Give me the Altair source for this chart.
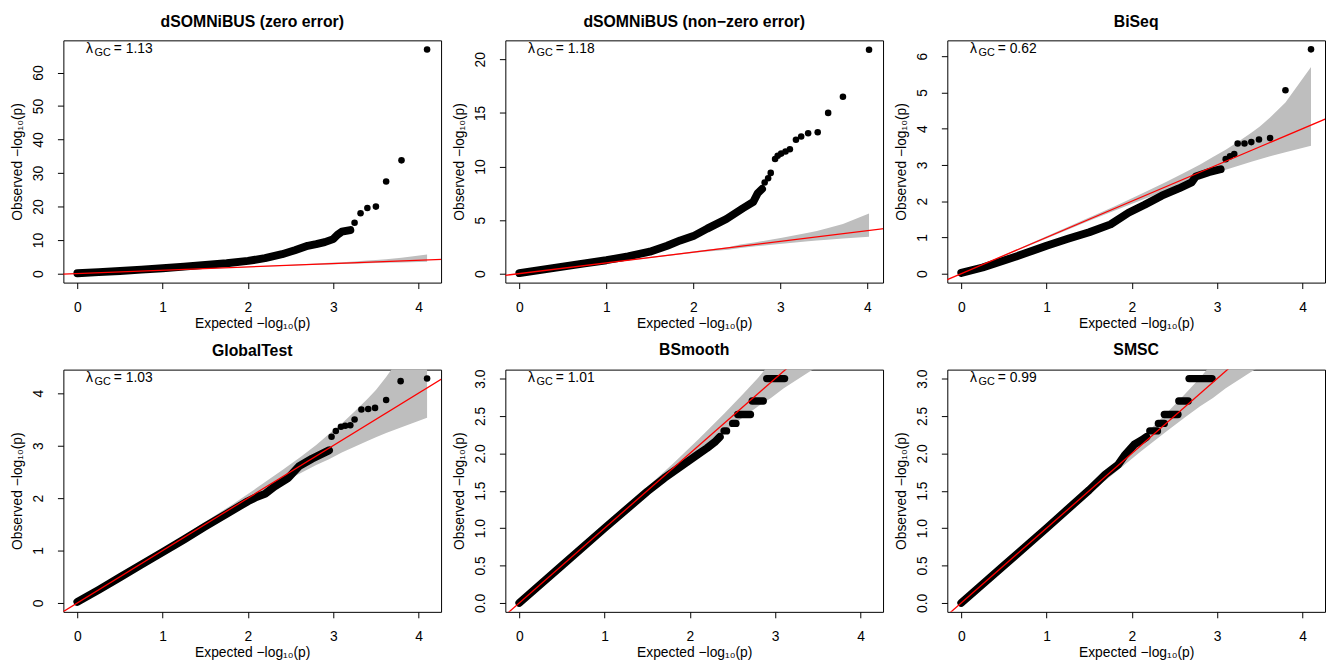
import altair as alt
import pandas as pd

FONT = "Liberation Sans"

titles = ["dSOMNiBUS (zero error)", "dSOMNiBUS (non\u2212zero error)", "BiSeq",
          "GlobalTest", "BSmooth", "SMSC"]
lambda_gc = ["1.13", "1.18", "0.62", "1.03", "1.01", "0.99"]

x_ticks = [0, 1, 2, 3, 4]
x_domains = [[-0.164, 4.264], [-0.161, 4.181], [-0.164, 4.264],
             [-0.164, 4.264], [-0.164, 4.264], [-0.164, 4.264]]
y_domains = [[-2.68, 69.6], [-0.84, 21.77], [-0.248, 6.438],
             [-0.17, 4.45], [-0.12, 3.12], [-0.12, 3.12]]
y_ticks = [[0, 10, 20, 30, 40, 50, 60], [0, 5, 10, 15, 20], [0, 1, 2, 3, 4, 5, 6],
           [0, 1, 2, 3, 4], [0, 0.5, 1.0, 1.5, 2.0, 2.5, 3.0], [0, 0.5, 1.0, 1.5, 2.0, 2.5, 3.0]]
y_formats = ["d", "d", "d", "d", ".1f", ".1f"]

# confidence bands (grey)
band_a_x = [0.0, 1.0, 1.5, 1.8, 2.1, 2.4, 2.62, 2.8, 2.95, 3.1, 3.25, 3.4, 3.5, 3.62, 3.8, 4.1]
band_a_hi = [0.0, 1.03, 1.55, 1.86, 2.19, 2.53, 2.79, 3.01, 3.22, 3.42, 3.65, 3.89, 4.06, 4.31, 4.72, 5.70]
band_a_lo = [0.0, 0.97, 1.46, 1.74, 2.02, 2.29, 2.48, 2.63, 2.74, 2.87, 2.98, 3.09, 3.16, 3.24, 3.35, 3.53]
band_b_x = [0.0, 1.0, 1.5, 1.8, 2.1, 2.4, 2.54, 2.72, 2.87, 3.02, 3.17, 3.32, 3.42, 3.54, 3.72, 4.02]
band_b_hi = [0.0, 1.03, 1.55, 1.86, 2.19, 2.46, 2.71, 2.93, 3.14, 3.34, 3.57, 3.81, 3.98, 4.23, 4.64, 5.62]
band_b_lo = [0.0, 0.97, 1.46, 1.74, 2.02, 2.22, 2.40, 2.55, 2.66, 2.79, 2.90, 3.01, 3.08, 3.16, 3.27, 3.45]

# dense parts of the QQ curves
p1_curve_x = [0.0, 0.25, 0.5, 0.75, 1.0, 1.25, 1.5, 1.75, 2.0, 2.2, 2.4, 2.55, 2.7, 2.8, 2.9, 3.0, 3.05, 3.1, 3.2]
p1_curve_y = [0.1, 0.45, 0.8, 1.2, 1.6, 2.1, 2.6, 3.1, 3.8, 4.6, 5.8, 7.0, 8.3, 8.8, 9.4, 10.3, 11.6, 12.5, 13.0]
p2_curve_x = [0.0, 0.25, 0.5, 0.75, 1.0, 1.25, 1.5, 1.7, 1.85, 2.0, 2.16, 2.38, 2.57, 2.69, 2.74, 2.79]
p2_curve_y = [0.05, 0.35, 0.65, 0.95, 1.25, 1.6, 2.05, 2.6, 3.1, 3.5, 4.2, 5.1, 6.1, 6.7, 7.5, 7.9]
p3_curve_x = [0.0, 0.25, 0.5, 0.75, 1.0, 1.25, 1.5, 1.75, 1.96, 2.15, 2.35, 2.55, 2.70, 2.75, 2.9, 3.04]
p3_curve_y = [0.02, 0.17, 0.36, 0.56, 0.77, 0.96, 1.14, 1.36, 1.68, 1.90, 2.15, 2.35, 2.52, 2.68, 2.80, 2.88]
p4_curve_x = [0.0, 0.25, 0.5, 0.75, 1.0, 1.25, 1.5, 1.75, 2.0, 2.1, 2.2, 2.31, 2.47, 2.6, 2.75, 2.95]
p4_curve_y = [0.02, 0.25, 0.49, 0.73, 0.97, 1.21, 1.46, 1.70, 1.94, 2.02, 2.08, 2.22, 2.38, 2.61, 2.75, 2.91]
p5_curve_x = [0.0, 0.5, 1.0, 1.5, 1.7, 1.85, 2.0, 2.1, 2.2, 2.29, 2.35]
p5_curve_y = [0.0, 0.5, 1.0, 1.49, 1.67, 1.79, 1.91, 1.99, 2.07, 2.15, 2.22]
p6_curve_x = [0.0, 0.5, 1.0, 1.5, 1.69, 1.84, 1.92, 2.03, 2.12, 2.17]
p6_curve_y = [0.0, 0.5, 1.0, 1.51, 1.72, 1.85, 1.98, 2.12, 2.18, 2.22]

# isolated points
p1_pts_x = [3.25, 3.32, 3.40, 3.50, 3.62, 3.80, 4.10]
p1_pts_y = [15.2, 18.0, 19.6, 20.0, 27.5, 33.8, 66.9]
p2_pts_x = [2.82, 2.86, 2.89, 2.94, 2.97, 3.01, 3.06, 3.11, 3.18, 3.24, 3.32, 3.43, 3.55, 3.72, 4.02]
p2_pts_y = [8.5, 8.9, 9.4, 10.7, 11.0, 11.2, 11.4, 11.6, 12.5, 12.8, 13.1, 13.2, 15.0, 16.5, 20.9]
p3_pts_x = [3.10, 3.15, 3.20, 3.24, 3.32, 3.40, 3.49, 3.62, 3.80, 4.10]
p3_pts_y = [3.16, 3.24, 3.30, 3.59, 3.59, 3.63, 3.70, 3.74, 5.06, 6.19]
p4_pts_x = [2.98, 3.03, 3.09, 3.14, 3.20, 3.25, 3.33, 3.41, 3.49, 3.62, 3.79, 4.10]
p4_pts_y = [3.17, 3.28, 3.36, 3.38, 3.39, 3.50, 3.69, 3.70, 3.72, 3.87, 4.23, 4.28]
p5_pts_x = []
p5_pts_y = []
p6_pts_x = []
p6_pts_y = []

# tied p-value steps (horizontal runs)
p5_step_y = [2.30, 2.40, 2.52, 2.70, 3.00]
p5_step_x0 = [2.40, 2.50, 2.56, 2.73, 2.90]
p5_step_x1 = [2.43, 2.54, 2.71, 2.86, 3.11]
p6_step_y = [2.30, 2.40, 2.52, 2.70, 3.00]
p6_step_x0 = [2.21, 2.31, 2.38, 2.55, 2.67]
p6_step_x1 = [2.30, 2.38, 2.54, 2.66, 2.94]

# reference line y = x
ref_x = [-1.0, 8.0]
ref_y = [-1.0, 8.0]

curves = [(p1_curve_x, p1_curve_y), (p2_curve_x, p2_curve_y), (p3_curve_x, p3_curve_y),
          (p4_curve_x, p4_curve_y), (p5_curve_x, p5_curve_y), (p6_curve_x, p6_curve_y)]
points = [(p1_pts_x, p1_pts_y), (p2_pts_x, p2_pts_y), (p3_pts_x, p3_pts_y),
          (p4_pts_x, p4_pts_y), (p5_pts_x, p5_pts_y), (p6_pts_x, p6_pts_y)]
steps = [None, None, None, None, (p5_step_x0, p5_step_x1, p5_step_y),
         (p6_step_x0, p6_step_x1, p6_step_y)]
bands = [(band_a_x, band_a_hi, band_a_lo), (band_b_x, band_b_hi, band_b_lo),
         (band_a_x, band_a_hi, band_a_lo), (band_a_x, band_a_hi, band_a_lo),
         (band_a_x, band_a_hi, band_a_lo), (band_a_x, band_a_hi, band_a_lo)]

x_title = "Expected  \u2212log\u2081\u2080(p)"
y_title = "Observed  \u2212log\u2081\u2080(p)"

W, H = 382, 245


def make_panel(k):
    xs = alt.Scale(domain=x_domains[k], nice=False, zero=False)
    ys = alt.Scale(domain=y_domains[k], nice=False, zero=False)
    xenc = alt.X("x:Q", scale=xs, axis=alt.Axis(values=x_ticks, title=x_title, format="d"))
    yenc = alt.Y("y:Q", scale=ys, axis=alt.Axis(values=y_ticks[k], title=y_title,
                                               format=y_formats[k]))
    bx, bhi, blo = bands[k]
    band = alt.Chart(pd.DataFrame({"x": bx, "y": bhi, "y2": blo})).mark_area(
        color="#BEBEBE", opacity=1, clip=True).encode(x=xenc, y=yenc, y2="y2:Q")
    cx, cy = curves[k]
    curve = alt.Chart(pd.DataFrame({"x": cx, "y": cy})).mark_line(
        color="black", strokeWidth=8, strokeCap="round", strokeJoin="round",
        clip=True).encode(x=xenc, y=yenc)
    layers = [band, curve]
    if steps[k] is not None:
        sx0, sx1, sy = steps[k]
        st = alt.Chart(pd.DataFrame({"x": sx0, "x2": sx1, "y": sy})).mark_rule(
            color="black", strokeWidth=7.4, strokeCap="round").encode(
            x=xenc, x2="x2:Q", y=yenc)
        layers.append(st)
    px, py = points[k]
    if len(px):
        pts = alt.Chart(pd.DataFrame({"x": px, "y": py})).mark_circle(
            color="black", size=44, opacity=1).encode(x=xenc, y=yenc)
        layers.append(pts)
    ref = alt.Chart(pd.DataFrame({"x": ref_x, "y": ref_y})).mark_line(
        color="#FF0000", strokeWidth=1.3, clip=True).encode(x=xenc, y=yenc)
    layers.append(ref)
    lam = alt.Chart(pd.DataFrame({"t": ["\u03bb"]})).mark_text(
        font=FONT, fontSize=14, align="left", baseline="alphabetic", color="black").encode(
        text="t:N", x=alt.value(23), y=alt.value(13))
    gc = alt.Chart(pd.DataFrame({"t": ["GC"]})).mark_text(
        font=FONT, fontSize=11, align="left", baseline="alphabetic", color="black").encode(
        text="t:N", x=alt.value(31.5), y=alt.value(16))
    val = alt.Chart(pd.DataFrame({"t": ["= " + lambda_gc[k]]})).mark_text(
        font=FONT, fontSize=14, align="left", baseline="alphabetic", color="black").encode(
        text="t:N", x=alt.value(51), y=alt.value(13))
    layers += [lam, gc, val]
    return alt.layer(*layers).properties(
        width=W, height=H,
        title=alt.TitleParams(titles[k], font=FONT, fontSize=16, fontWeight="bold",
                              offset=11, color="black"))


row1 = alt.hconcat(make_panel(0), make_panel(1), make_panel(2), spacing=10)
row2 = alt.hconcat(make_panel(3), make_panel(4), make_panel(5), spacing=10)
chart = alt.vconcat(row1, row2, spacing=10).resolve_scale(x="independent", y="independent")
chart = chart.properties(
    padding={"left": 2, "top": 1, "right": 0, "bottom": 0},
    background="white",
).configure_view(
    stroke="black", strokeWidth=1
).configure_axis(
    grid=False, domain=False, ticks=True, tickColor="black", tickSize=6, tickWidth=1,
    labelFont=FONT, labelFontSize=14, labelColor="black", labelFlush=False,
    labelOverlap=False,
    titleFont=FONT, titleFontSize=14, titleFontWeight="normal", titleColor="black",
).configure_axisX(
    labelPadding=12, titlePadding=2
).configure_axisY(
    labelAngle=270, labelAlign="center", labelBaseline="bottom",
    labelPadding=12, titlePadding=7
)

chart.save("out.html", embed_options={"renderer": "svg", "actions": False})
